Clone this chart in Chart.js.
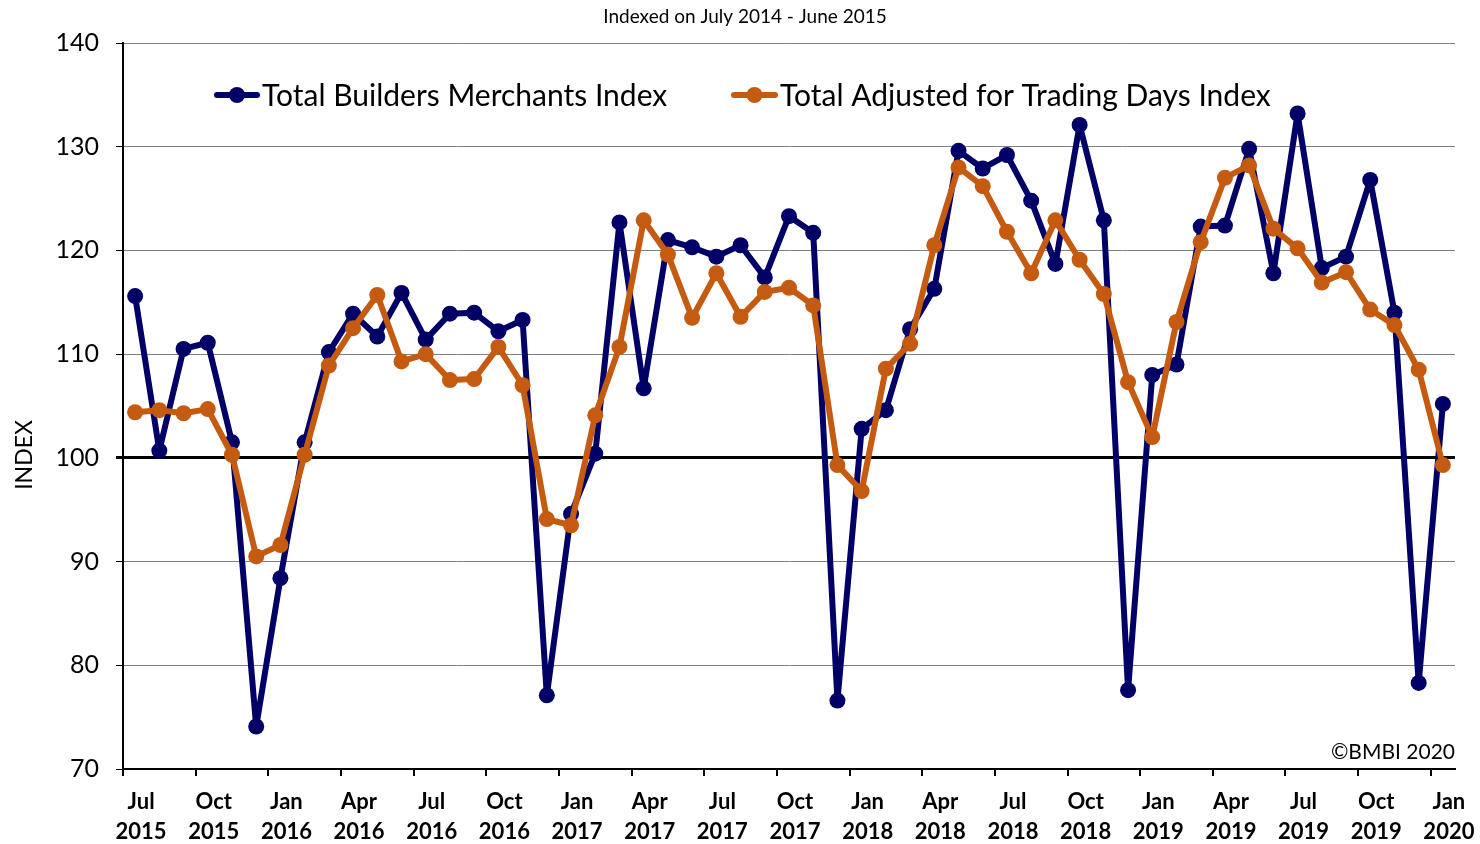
<!DOCTYPE html>
<html>
<head>
<meta charset="utf-8">
<script src="https://cdn.jsdelivr.net/npm/chart.js@4/dist/chart.umd.min.js"></script>
<style>
  html, body { margin: 0; padding: 0; background: #fff; }
  #wrap { width: 1480px; height: 844px; }
</style>
</head>
<body>
<div id="wrap"><canvas id="chart" width="1480" height="844"></canvas></div>
<script>
(function () {
  'use strict';

  // Jul 2015 .. Jan 2020
  var labels = [
    'Jul 2015', 'Aug 2015', 'Sep 2015', 'Oct 2015', 'Nov 2015', 'Dec 2015',
    'Jan 2016', 'Feb 2016', 'Mar 2016', 'Apr 2016', 'May 2016', 'Jun 2016',
    'Jul 2016', 'Aug 2016', 'Sep 2016', 'Oct 2016', 'Nov 2016', 'Dec 2016',
    'Jan 2017', 'Feb 2017', 'Mar 2017', 'Apr 2017', 'May 2017', 'Jun 2017',
    'Jul 2017', 'Aug 2017', 'Sep 2017', 'Oct 2017', 'Nov 2017', 'Dec 2017',
    'Jan 2018', 'Feb 2018', 'Mar 2018', 'Apr 2018', 'May 2018', 'Jun 2018',
    'Jul 2018', 'Aug 2018', 'Sep 2018', 'Oct 2018', 'Nov 2018', 'Dec 2018',
    'Jan 2019', 'Feb 2019', 'Mar 2019', 'Apr 2019', 'May 2019', 'Jun 2019',
    'Jul 2019', 'Aug 2019', 'Sep 2019', 'Oct 2019', 'Nov 2019', 'Dec 2019',
    'Jan 2020'
  ];

  var totalIndex = [
    115.6, 100.7, 110.5, 111.1, 101.5, 74.1,
    88.4, 101.5, 110.2, 113.9, 111.7, 115.9,
    111.4, 113.9, 114.0, 112.2, 113.3, 77.1,
    94.6, 100.4, 122.7, 106.7, 121.0, 120.3,
    119.4, 120.5, 117.4, 123.3, 121.7, 76.6,
    102.8, 104.6, 112.4, 116.3, 129.6, 127.9,
    129.2, 124.8, 118.7, 132.1, 122.9, 77.6,
    108.0, 109.0, 122.3, 122.4, 129.8, 117.8,
    133.2, 118.3, 119.4, 126.8, 114.0, 78.3,
    105.2
  ];

  var adjustedIndex = [
    104.4, 104.6, 104.3, 104.7, 100.3, 90.5,
    91.6, 100.3, 108.9, 112.5, 115.7, 109.3,
    110.0, 107.5, 107.6, 110.7, 107.0, 94.1,
    93.5, 104.1, 110.7, 122.9, 119.6, 113.5,
    117.8, 113.6, 116.0, 116.4, 114.7, 99.3,
    96.8, 108.6, 111.0, 120.5, 128.0, 126.2,
    121.8, 117.8, 122.9, 119.1, 115.8, 107.3,
    102.0, 113.1, 120.8, 127.0, 128.2, 122.1,
    120.2, 116.9, 117.9, 114.3, 112.8, 108.5,
    99.3
  ];

  var seriesNames = ['Total Builders Merchants Index', 'Total Adjusted for Trading Days Index'];
  var seriesColors = ['#000066', '#C55A11'];

  var FONT = 'Lato, "Open Sans", sans-serif';

  // title, legend, copyright and y title drawn on the canvas
  var extras = {
    id: 'extras',
    afterDraw: function (chart) {
      var c = chart.ctx;
      c.save();
      c.fillStyle = '#000';
      c.textBaseline = 'middle';

      c.font = '19px ' + FONT;
      c.textAlign = 'center';
      c.fillText('Indexed on July 2014 - June 2015', 745, 17);

      c.save();
      c.translate(25, 455);
      c.rotate(-Math.PI / 2);
      c.font = '23px ' + FONT;
      c.fillText('INDEX', 0, 0);
      c.restore();

      c.font = '21px ' + FONT;
      c.textAlign = 'right';
      c.fillText('\u00A9BMBI 2020', 1455, 752);

      var items = [{ x0: 214, x1: 260 }, { x0: 731, x1: 778 }];
      c.font = '30px ' + FONT;
      c.textAlign = 'left';
      items.forEach(function (it, i) {
        var y = 95;
        c.strokeStyle = seriesColors[i];
        c.fillStyle = seriesColors[i];
        c.lineWidth = 6;
        c.lineCap = 'round';
        c.beginPath();
        c.moveTo(it.x0 + 3, y);
        c.lineTo(it.x1 - 3, y);
        c.stroke();
        c.beginPath();
        c.arc((it.x0 + it.x1) / 2, y, 8, 0, Math.PI * 2);
        c.fill();
        c.fillStyle = '#000';
        c.fillText(seriesNames[i], it.x1 + 2, y + 1);
      });
      c.restore();
    }
  };

  var ctx = document.getElementById('chart').getContext('2d');

  new Chart(ctx, {
    type: 'line',
    data: {
      labels: labels,
      datasets: [
        {
          label: seriesNames[0],
          data: totalIndex,
          borderColor: seriesColors[0],
          backgroundColor: seriesColors[0],
          borderWidth: 6,
          borderJoinStyle: 'round',
          pointRadius: 8,
          pointBorderWidth: 0,
          tension: 0,
          fill: false,
          order: 1
        },
        {
          label: seriesNames[1],
          data: adjustedIndex,
          borderColor: seriesColors[1],
          backgroundColor: seriesColors[1],
          borderWidth: 6,
          borderJoinStyle: 'round',
          pointRadius: 8,
          pointBorderWidth: 0,
          tension: 0,
          fill: false,
          order: 0
        }
      ]
    },
    options: {
      responsive: false,
      animation: false,
      layout: { padding: { top: 43, right: 25, left: 0, bottom: 0 } },
      plugins: {
        legend: { display: false },
        title: { display: false },
        tooltip: { enabled: false }
      },
      scales: {
        x: {
          type: 'category',
          offset: true,
          border: { display: true, color: '#000', width: 2 },
          grid: {
            offset: true,
            drawOnChartArea: false,
            drawTicks: true,
            tickLength: 7,
            lineWidth: 2,
            color: function (c) { return c.index % 3 === 0 ? '#000' : 'rgba(0,0,0,0)'; }
          },
          ticks: {
            autoSkip: false,
            maxRotation: 0,
            minRotation: 0,
            padding: 11,
            labelOffset: 6,
            color: '#000',
            font: { family: FONT, size: 22, weight: 'bold', lineHeight: 1.36 },
            callback: function (v, i) {
              if (i % 3 !== 0) return '';
              return labels[i].split(' ');
            }
          },
          afterFit: function (s) { s.height = 75; }
        },
        y: {
          min: 70,
          max: 140,
          border: { display: true, color: '#000', width: 2 },
          grid: {
            drawTicks: true,
            tickLength: 7,
            color: function (c) { return c.tick && c.tick.value === 100 ? '#000' : '#808080'; },
            tickColor: '#000',
            lineWidth: function (c) { return c.tick && c.tick.value === 100 ? 3 : 1; }
          },
          ticks: {
            stepSize: 10,
            padding: 17,
            color: '#000',
            font: { family: FONT, size: 25 }
          },
          afterFit: function (s) { s.width = 123; }
        }
      }
    },
    plugins: [extras]
  });
}());
</script>
</body>
</html>
